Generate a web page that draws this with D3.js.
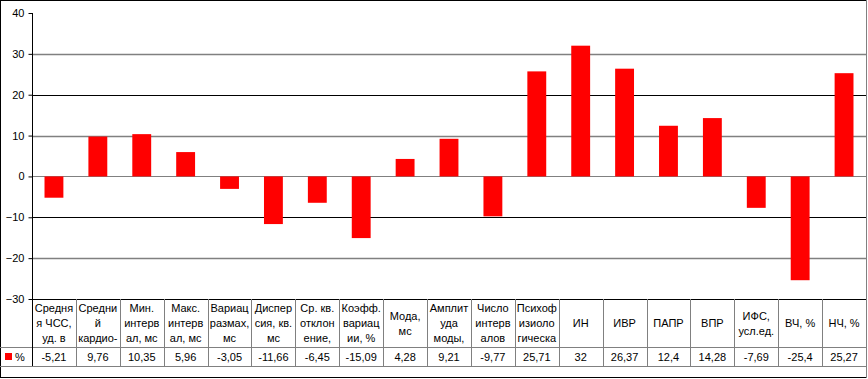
<!DOCTYPE html>
<html>
<head>
<meta charset="utf-8">
<script src="https://cdn.jsdelivr.net/npm/d3@7"></script>
<style>
  body { margin: 0; background: #fff; }
  svg { display: block; font-family: "Liberation Sans", Arial, sans-serif; }
</style>
</head>
<body>
<div id="chart"></div>
<script>
            // chart data
            var categories = [
                ["Средня", "я ЧСС,", "уд. в"],
                ["Средни", "й", "кардио-"],
                ["Мин.", "интерв", "ал, мс"],
                ["Макс.", "интерв", "ал, мс"],
                ["Вариац", "размах,", "мс"],
                ["Диспер", "сия, кв.", "мс"],
                ["Ср. кв.", "отклон", "ение,"],
                ["Коэфф.", "вариац", "ии, %"],
                ["Мода,", "мс"],
                ["Амплит", "уда", "моды,"],
                ["Число", "интерв", "алов"],
                ["Психоф", "изиоло", "гическа"],
                ["ИН"],
                ["ИВР"],
                ["ПАПР"],
                ["ВПР"],
                ["ИФС,", "усл.ед."],
                ["ВЧ, %"],
                ["НЧ, %"]
            ];
            var values = [-5.21, 9.76, 10.35, 5.96, -3.05, -11.66, -6.45, -15.09, 4.28, 9.21,
                          -9.77, 25.71, 32, 26.37, 12.4, 14.28, -7.69, -25.4, 25.27];
            var seriesName = "%";
            var yTicks = [-30, -20, -10, 0, 10, 20, 30, 40];

            var w = 868;
            var h = 379;
            // note: "top" is reserved on window, so plot edges get their own names
            var plotLeft = 32, plotRight = 866, plotTop = 13, plotBottom = 299;
            var headerBottom = 347, rowBottom = 366;

            var xScale = d3.scaleBand()
                            .domain(d3.range(values.length))
                            .range([plotLeft, plotRight])
                            .padding(0);

            var yScale = d3.scaleLinear()
                            .domain([-30, 40])
                            .range([plotBottom, plotTop]);

            var svg = d3.select("#chart")
                        .append("svg")
                        .attr("width", w)
                        .attr("height", h);

            // outer frame
            svg.append("rect")
                .attr("x", 0.5).attr("y", 0.5)
                .attr("width", 866).attr("height", 377)
                .attr("fill", "white")
                .attr("stroke", "black");
            svg.append("line")
                .attr("x1", 866.5).attr("x2", 866.5)
                .attr("y1", 0).attr("y2", 378)
                .attr("stroke", "#808080");

            // gridlines
            svg.append("g")
                .selectAll("line")
                .data(yTicks.filter(function(d){ return d > -30 && d < 40; }))
                .enter()
                .append("line")
                .attr("x1", plotLeft).attr("x2", plotRight)
                .attr("y1", function(d){ return Math.round(yScale(d)) + 0.5; })
                .attr("y2", function(d){ return Math.round(yScale(d)) + 0.5; })
                .attr("stroke", function(d){ return (d == 20 || d == -10) ? "#000" : "#808080"; })
                .attr("stroke-width", function(d){ return (d == 20 || d == -10 || d == 0) ? 1 : 1.5; });

            // y axis
            var yAxis = d3.axisLeft(yScale)
                          .tickValues(yTicks)
                          .tickSize(4)
                          .tickPadding(4);

            var ga = svg.append("g")
                .attr("transform", "translate(" + (plotLeft + 0.5) + ",0)")
                .call(yAxis);
            ga.select(".domain").remove();
            ga.append("line")
                .attr("x1", 0).attr("x2", 0)
                .attr("y1", plotTop).attr("y2", plotBottom)
                .attr("stroke", "black");
            ga.selectAll("text")
                .attr("font-size", 11)
                .attr("font-family", "Liberation Sans, Arial, sans-serif")
                .attr("fill", "black");
            ga.selectAll(".tick line").attr("stroke", "black");

            // bars
            var barW = xScale.bandwidth() * 0.43;
            svg.append("g")
                .selectAll("rect")
                .data(values)
                .enter()
                .append("rect")
                .attr("x", function(d, i){ return xScale(i) + (xScale.bandwidth() - barW) / 2; })
                .attr("y", function(d){ return yScale(Math.max(0, d)); })
                .attr("width", barW)
                .attr("height", function(d){ return Math.abs(yScale(d) - yScale(0)); })
                .attr("fill", "#ff0000");

            // data table
            var table = svg.append("g");

            table.append("line")
                .attr("x1", plotLeft).attr("x2", plotRight)
                .attr("y1", plotBottom + 0.5).attr("y2", plotBottom + 0.5)
                .attr("stroke", "black");
            table.append("line")
                .attr("x1", 0).attr("x2", plotRight)
                .attr("y1", headerBottom + 0.5).attr("y2", headerBottom + 0.5)
                .attr("stroke", "#808080");
            table.append("line")
                .attr("x1", 0).attr("x2", plotRight)
                .attr("y1", rowBottom + 0.5).attr("y2", rowBottom + 0.5)
                .attr("stroke", "#808080");

            table.selectAll(".vline")
                .data(d3.range(values.length + 1))
                .enter()
                .append("line")
                .attr("class", "vline")
                .attr("x1", function(i){ return Math.round(plotLeft + i * xScale.step()) + 0.5; })
                .attr("x2", function(i){ return Math.round(plotLeft + i * xScale.step()) + 0.5; })
                .attr("y1", plotBottom)
                .attr("y2", rowBottom)
                .attr("stroke", function(i){ return i == 0 ? "black" : "#808080"; });

            // header labels
            var headers = table.selectAll(".hdr")
                .data(categories)
                .enter()
                .append("text")
                .attr("class", "hdr")
                .attr("text-anchor", "middle")
                .attr("font-size", 11)
                .attr("fill", "black");

            headers.each(function(lines, i){
                var cx = xScale(i) + xScale.bandwidth() / 2;
                var mid = (plotBottom + headerBottom) / 2;
                var y0 = mid - (lines.length - 1) * 7.5 + 4;
                d3.select(this).selectAll("tspan")
                    .data(lines)
                    .enter()
                    .append("tspan")
                    .attr("x", cx)
                    .attr("y", function(d, j){ return y0 + j * 15; })
                    .text(function(d){ return d; });
            });

            // value row
            table.selectAll(".val")
                .data(values)
                .enter()
                .append("text")
                .attr("class", "val")
                .attr("text-anchor", "middle")
                .attr("font-size", 11)
                .attr("fill", "black")
                .attr("x", function(d, i){ return xScale(i) + xScale.bandwidth() / 2; })
                .attr("y", (headerBottom + rowBottom) / 2 + 4)
                .text(function(d){ return String(d).replace(".", ","); });

            // legend key
            table.append("rect")
                .attr("x", 5).attr("y", 353)
                .attr("width", 7).attr("height", 7)
                .attr("fill", "#ff0000");
            table.append("text")
                .attr("x", 15).attr("y", 361)
                .attr("font-size", 11)
                .attr("fill", "black")
                .text(seriesName);
</script>
</body>
</html>
